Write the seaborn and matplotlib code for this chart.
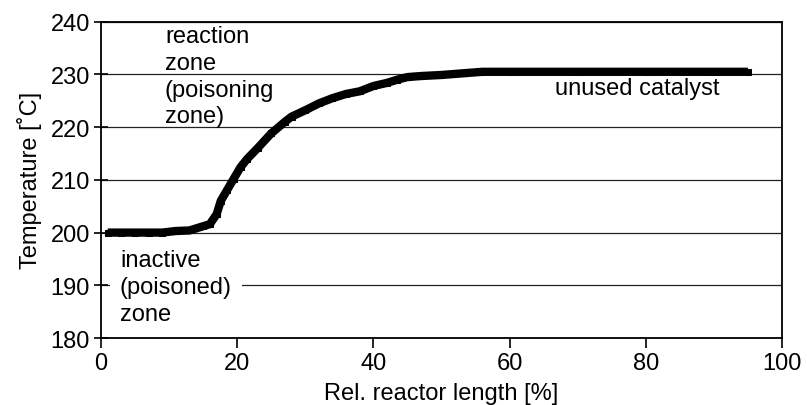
import numpy as np
import pandas as pd
import matplotlib
matplotlib.use('Agg')
import matplotlib.pyplot as plt
import seaborn as sns

# temperature profile along the reactor
rel_length = [1, 3, 5, 7, 9, 11, 13, 15, 16, 17, 17.6, 18.5, 19.5, 20.5, 21.5,
              23, 25, 27, 28, 30, 32, 34, 36, 38, 40, 42, 43.5, 45, 47, 50,
              53, 56, 60, 70, 80, 90, 95]
temperature = [200, 200, 200, 200, 200, 200.3, 200.4, 201.2, 201.6, 203.5, 206,
               208, 210.2, 212.4, 214, 216, 218.8, 221, 222, 223.2, 224.5,
               225.5, 226.3, 226.8, 227.8, 228.4, 229, 229.5, 229.7, 229.9,
               230.2, 230.5, 230.5, 230.5, 230.5, 230.5, 230.5]

df = pd.DataFrame({'length': rel_length, 'temp': temperature})

sns.set_style('ticks')
plt.rcParams['font.family'] = ['Liberation Sans', 'DejaVu Sans']
plt.rcParams['text.color'] = 'black'
plt.rcParams['axes.labelcolor'] = 'black'

fig, ax = plt.subplots(figsize=(8.07, 4.06), dpi=100)
fig.subplots_adjust(left=0.125, right=0.969, top=0.944, bottom=0.165)

ax.yaxis.grid(True, color='#222222', linewidth=0.9)
ax.set_axisbelow(True)

sns.lineplot(data=df, x='length', y='temp', ax=ax, color='black',
             linewidth=6, marker='s', markersize=5, markeredgecolor='black',
             solid_capstyle='butt', zorder=3)

ax.set_xlim(0, 100)
ax.set_ylim(180, 240)
ax.set_xticks(range(0, 101, 20))
ax.set_yticks(range(180, 241, 10))

for s in ax.spines.values():
    s.set_color('black')
    s.set_linewidth(1.3)

ax.tick_params(labelsize=17, colors='black', width=1.2)
ax.tick_params(axis='y', direction='inout', length=10, pad=3)
ax.tick_params(axis='x', direction='out', length=7, pad=3)
ax.set_xlabel('Rel. reactor length [%]', fontsize=17, labelpad=6)
ax.set_ylabel('Temperature [˚C]', fontsize=17, labelpad=6)

ax.text(9.4, 239.3, 'reaction\nzone\n(poisoning\nzone)', fontsize=17,
        va='top', ha='left', linespacing=1.27, zorder=2)
ax.text(2.8, 196.8, 'inactive\n(poisoned)\nzone', fontsize=17,
        va='top', ha='left', linespacing=1.27,
        bbox=dict(facecolor='white', edgecolor='none', pad=7), zorder=2)
ax.text(66.7, 227.5, 'unused catalyst', fontsize=17, va='center', ha='left',
        zorder=2)

fig.savefig('out.png', dpi=100)
